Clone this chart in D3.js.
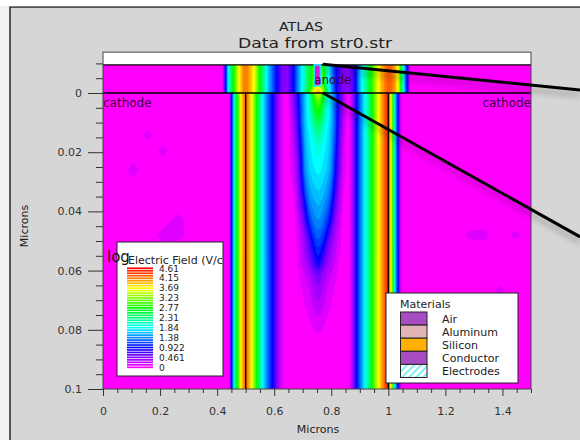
<!DOCTYPE html>
<html><head><meta charset="utf-8">
<script src="https://cdn.jsdelivr.net/npm/d3@7"></script>
<style>html,body{margin:0;padding:0;background:#f2f2f2;overflow:hidden}svg{display:block}text{font-family:"DejaVu Sans",sans-serif}</style>
</head><body><div id="c"></div>
<script>
const titleLines = ["ATLAS", "Data from str0.str"];
const xTicks = [0, 0.2, 0.4, 0.6, 0.8, 1, 1.2, 1.4];
const xMinor = [0.05,0.1,0.15,0.25,0.3,0.35,0.45,0.5,0.55,0.65,0.7,0.75,0.85,0.9,0.95,1.05,1.1,1.15,1.25,1.3,1.35,1.45,1.5];
const yTicks = [0, 0.02, 0.04, 0.06, 0.08, 0.1];
const yMinor = [-0.01,-0.005,0.005,0.01,0.015,0.025,0.03,0.035,0.045,0.05,0.055,0.065,0.07,0.075,0.085,0.09,0.095];
const legendTicks = [4.61,4.15,3.69,3.23,2.77,2.31,1.84,1.38,0.922,0.461,0];
const materials = ["Air","Aluminum","Silicon","Conductor","Electrodes"];
const materialColors = ["#a84cc4","#e2b5b5","#ffb000","#a84cc4","url(#hatchLegend)"];
const electrodeNames = ["cathode","anode","cathode"];

// Field sample positions (microns)
const xKnots = [0,.053,.105,.158,.21,.263,.315,.368,
 .417,.424,.431,.438,.445,.449,.456,.463,.473,.48,.491,.501,.508,.522,.533,.543,.561,.578,.596,.61,.627,.645,
 .666,.68,.694,.708,.722,.736,.747,.754,.761,.771,.785,.799,.813,.827,.841,
 .859,.876,.887,.901,.918,.943,.96,.978,.995,1.002,1.013,1.023,1.034,1.041,1.051,1.062,1.069,1.076,
 1.129,1.181,1.234,1.286,1.339,1.391,1.444,1.5];
const yKnots = [-.0095,-.0024,-.00004,.00001,.0024,.0057,.0091,.0142,.0193,.026,.0328,.0378,.0429,.048,.053,.0574,.0615,.0666,.0716,.0767,.0818,.0868,.1];

// log field in the layer above y=0, outside the centre well
const topLeft = [0,0,0,0,0,0,0,0, 0,.5,1.05,1.8,2.3,2.5,2.8,3.1,3.6,3.85,4.15,4.2,4.15,3.9,3.6,3.1,2.4,1.7,1.3,.92,.55,.45];
const topRight = [.45,.7,1.05,1.7,2.2,3,3.6,4.05,4.3,4.35,4.25,4.1,3.7,3.1,2.1,1.2,.7,.1, 0,0,0,0,0,0,0,0];
// log field in the substrate, outside the centre well
const sideLeft = [0,0,0,0,0,0,0,0, 0,0,0,0,.2,.9,1.5,2.4,2.95,3.6,4.1,4.3,4.15,3.7,3.15,2.6,1.84,1.35,.92,.5,.15,.03];
const sideRight = [.02,.4,.92,1.4,1.9,2.8,3.55,4.1,4.5,4.4,3.3,1.84,.92,.3,0,0,0,0, 0,0,0,0,0,0,0,0];
// centre well: one row per yKnots entry, one value per well column
const wellRows = [
 [.92,1.38,1.8,2.2,2.6,3,3.3,3.4,3.3,2.9,2.2,1.6,1.1,.75,.5],
 [.92,1.38,1.8,2.2,2.6,3.1,3.5,3.7,3.5,3.1,2.2,1.6,1.1,.75,.5],
 [.92,1.38,1.84,2.4,3,3.8,4,4.05,4,3.6,2.5,1.7,1.15,.75,.5],
 [.45,.8,1.3,1.7,2.05,2.9,3.5,3.6,3.5,2.9,2.1,1.75,1.35,.8,.45],
 [.45,.8,1.3,1.7,2.05,2.7,3.1,3.2,3.1,2.7,2.1,1.75,1.35,.8,.45],
 [.4,.75,1.25,1.7,2,2.5,2.8,2.85,2.8,2.5,2,1.7,1.3,.75,.4],
 [.35,.7,1.25,1.7,1.95,2.3,2.55,2.6,2.55,2.3,1.95,1.7,1.3,.75,.35],
 [.3,.62,1.15,1.65,1.85,2,2.2,2.25,2.2,2,1.85,1.65,1.25,.7,.3],
 [.25,.5,1,1.6,1.8,1.9,1.98,2,1.98,1.9,1.8,1.6,1.15,.62,.25],
 [.2,.42,.9,1.5,1.72,1.82,1.86,1.88,1.86,1.82,1.72,1.5,1.05,.55,.2],
 [.12,.35,.72,1.25,1.55,1.68,1.72,1.74,1.72,1.68,1.55,1.3,.85,.42,.15],
 [.06,.28,.55,1,1.4,1.55,1.6,1.62,1.6,1.55,1.4,1.1,.65,.35,.1],
 [.05,.2,.4,.75,1.15,1.4,1.48,1.5,1.48,1.4,1.2,.9,.5,.28,.08],
 [.04,.15,.3,.5,.82,1.15,1.3,1.33,1.3,1.2,.92,.55,.36,.2,.06],
 [.03,.12,.25,.4,.6,.88,1.08,1.12,1.08,.92,.6,.42,.28,.15,.05],
 [.02,.08,.22,.33,.48,.68,.88,.95,.88,.68,.48,.33,.22,.1,.03],
 [.01,.06,.16,.24,.32,.44,.52,.55,.52,.44,.32,.24,.16,.08,.02],
 [0,.04,.1,.15,.22,.32,.39,.42,.39,.32,.22,.15,.1,.04,0],
 [0,.02,.06,.12,.17,.24,.3,.32,.3,.24,.17,.12,.06,.02,0],
 [0,0,.03,.07,.11,.16,.19,.2,.19,.16,.11,.07,.03,0,0],
 [0,0,0,.03,.05,.08,.1,.1,.1,.08,.05,.03,0,0,0],
 [0,0,0,0,0,0,0,0,0,0,0,0,0,0,0],
 [0,0,0,0,0,0,0,0,0,0,0,0,0,0,0]];
// faint low-field spots in the flat regions
const patchX = [.158,.21,.105,.263,.21,.263,1.286,1.339,1.444,1.391];
const patchY = [.0142,.0193,.026,.0429,.048,.048,.048,.048,.048,.0666];
const patchV = [.17,.17,.18,.2,.2,.2,.17,.17,.17,.17];
const maxField = 4.61, levelCount = 40;

const W = 580, H = 440;
const x = d3.scaleLinear([0, 1.5], [103, 531]);
const y = d3.scaleLinear([0, 0.1], [93, 389]);
const hue = d3.scaleLinear([0, maxField], [300, 0]);
const color = v => d3.hsl(hue(v), 1, 0.5).formatHex();
const levels = d3.range(levelCount).map(i => i * maxField / levelCount);

const field = [];
yKnots.forEach((yk, r) => {
  const left = r < 3 ? topLeft : sideLeft, right = r < 3 ? topRight : sideRight;
  const row = left.concat(wellRows[r], right);
  patchX.forEach((px, i) => { if (patchY[i] === yk) row[xKnots.indexOf(px)] = patchV[i]; });
  field.push(...row);
});

const svg = d3.select("#c").append("svg").attr("width", W).attr("height", H);
const defs = svg.append("defs");
defs.append("clipPath").attr("id","plotClip").append("rect")
  .attr("x",x(0)).attr("y",y(-0.0138)).attr("width",x(1.5)-x(0)).attr("height",y(0.1)-y(-0.0138));
defs.append("clipPath").attr("id","legendClip").append("rect")
  .attr("x",117).attr("y",242).attr("width",106).attr("height",134);
const hl = defs.append("pattern").attr("id","hatchLegend").attr("width",5).attr("height",5)
  .attr("patternUnits","userSpaceOnUse").attr("patternTransform","rotate(45)");
hl.append("rect").attr("width",5).attr("height",5).attr("fill","#fff");
hl.append("rect").attr("width",2).attr("height",5).attr("fill","#7ff0f5");
const ha = defs.append("pattern").attr("id","hatchAnode").attr("width",4).attr("height",4)
  .attr("patternUnits","userSpaceOnUse").attr("patternTransform","rotate(-45)");
ha.append("rect").attr("width",4).attr("height",4).attr("fill","#ff00e0");
ha.append("rect").attr("width",1.5).attr("height",4).attr("fill","#a040c0");
defs.append("filter").attr("id","soft").attr("x","-10%").attr("y","-50%").attr("width","120%").attr("height","200%")
  .append("feGaussianBlur").attr("stdDeviation",3);

// figure panel
svg.append("rect").attr("x",10).attr("y",7).attr("width",W).attr("height",H).attr("fill","#d6d6d6").attr("stroke","#2a2a2a").attr("stroke-width",1.5);
svg.append("rect").attr("x",0).attr("y",0).attr("width",W).attr("height",6.2).attr("fill","#fff");

const titleWidths = [44, 154], titleSizes = [13, 14];
svg.selectAll(".title").data(titleLines).join("text").attr("class","title")
  .attr("x",(d,i)=>i?315:301).attr("y",(d,i)=>31+i*17).attr("text-anchor","middle").attr("font-size",(d,i)=>titleSizes[i])
  .attr("textLength",(d,i)=>titleWidths[i]).attr("lengthAdjust","spacingAndGlyphs").attr("fill","#222").text(d=>d);

// plot area
svg.append("rect").attr("x",x(0)).attr("y",y(-0.0138)).attr("width",x(1.5)-x(0)).attr("height",y(0.1)-y(-0.0138)).attr("fill","#fff");

const ix = d3.scaleLinear(xKnots.map((_,i)=>i+.5), xKnots.map(v=>x(v))).clamp(true);
const iy = d3.scaleLinear(yKnots.map((_,i)=>i+.5), yKnots.map(v=>y(v))).clamp(true);
const path = d3.geoPath(d3.geoTransform({point(a,b){this.stream.point(ix(a),iy(b));}}));
const contours = d3.contours().size([xKnots.length,yKnots.length]).thresholds(levels)(field);
const plot = svg.append("g").attr("clip-path","url(#plotClip)");
plot.selectAll("path.band").data(contours).join("path").attr("class","band")
  .attr("d",path).attr("fill",d=>color(d.value)).attr("fill-rule","evenodd");

// material boundaries
[[0,1.5,0,0],[0,1.5,-0.0095,-0.0095],[0.5,0.5,0,0.1],[1,1,0,0.1]].forEach(s=>{
  plot.append("line").attr("x1",x(s[0])).attr("x2",x(s[1])).attr("y1",y(s[2])).attr("y2",y(s[3])).attr("stroke","#000").attr("stroke-width",1.4);
});
// anode electrode
plot.append("rect").attr("x",x(.74)).attr("y",y(-.0095)).attr("width",x(.762)-x(.74)).attr("height",y(-.0024)-y(-.0095))
  .attr("fill","url(#hatchAnode)").attr("stroke","#19e6ff").attr("stroke-width",1.6);

// electrode labels
const nameX = [x(0), x(.74), x(1.5)], nameY = [0.0035,-0.0045,0.0035], anchors=["start","start","end"];
svg.selectAll(".el").data(electrodeNames).join("text").attr("class","el")
  .attr("x",(d,i)=>nameX[i]).attr("y",(d,i)=>y(nameY[i])).attr("dy",4).attr("text-anchor",(d,i)=>anchors[i])
  .attr("font-size",12).attr("fill","#3c0040").text(d=>d);

// frame
svg.append("rect").attr("x",x(0)).attr("y",y(-0.0138)).attr("width",x(1.5)-x(0)).attr("height",y(0.1)-y(-0.0138))
  .attr("fill","none").attr("stroke","#444").attr("stroke-width",1);

// axes
function styleAxis(g){ g.select(".domain").remove(); g.selectAll("line").attr("stroke","#333"); g.selectAll("text").attr("font-family","DejaVu Sans").attr("font-size",11).attr("fill","#333"); }
svg.append("g").attr("transform",`translate(0,${y(.1)})`).call(d3.axisBottom(x).tickValues(xMinor).tickSize(4).tickFormat("")).call(styleAxis);
svg.append("g").attr("transform",`translate(0,${y(.1)})`).call(d3.axisBottom(x).tickValues(xTicks).tickSize(7).tickPadding(11).tickFormat(d=>String(d))).call(styleAxis);
svg.append("g").attr("transform",`translate(${x(0)},0)`).call(d3.axisLeft(y).tickValues(yMinor).tickSize(7).tickFormat("")).call(styleAxis);
svg.append("g").attr("transform",`translate(${x(0)},0)`).call(d3.axisLeft(y).tickValues(yTicks).tickSize(15).tickPadding(6).tickFormat(d=>String(d))).call(styleAxis);
svg.append("text").attr("x",318).attr("y",433).attr("text-anchor","middle").attr("font-size",11).attr("fill","#222").text("Microns");
svg.append("text").attr("transform","translate(28,226) rotate(-90)").attr("text-anchor","middle").attr("font-size",11).attr("fill","#222").text("Microns");

// field legend
svg.append("rect").attr("x",117).attr("y",242).attr("width",106).attr("height",134).attr("fill","#fff").attr("stroke","#222").attr("stroke-width",1);
const lg = svg.append("g").attr("clip-path","url(#legendClip)");
lg.append("text").attr("x",128).attr("y",264).attr("font-size",11).attr("fill","#222").text("Electric Field (V/cm)");
const ly = d3.scaleLinear([maxField,0],[268.3,367.3]);
const stripes = levels.concat([maxField]);
lg.selectAll("rect.st").data(stripes).join("rect").attr("class","st")
  .attr("x",127).attr("width",26).attr("y",d=>ly(d)-.85).attr("height",1.7).attr("fill",d=>color(d));
lg.selectAll("text.tk").data(legendTicks).join("text").attr("class","tk")
  .attr("x",159).attr("y",d=>ly(d)).attr("dy",3.3).attr("font-size",9).attr("fill","#222").text(d=>d);
svg.append("text").attr("x",107).attr("y",262).attr("font-size",15).attr("fill","#111").text("log");

// materials legend
svg.append("rect").attr("x",386).attr("y",293).attr("width",132).attr("height",90).attr("fill","#fff").attr("stroke","#222").attr("stroke-width",1);
svg.append("text").attr("x",400).attr("y",308).attr("font-size",11).attr("fill","#222").text("Materials");
const my = d3.scaleBand(materials,[312,377.5]);
svg.selectAll("rect.m").data(materials).join("rect").attr("class","m")
  .attr("x",400.5).attr("width",26.5).attr("y",d=>my(d)).attr("height",my.bandwidth())
  .attr("fill",(d,i)=>materialColors[i]).attr("stroke","#222").attr("stroke-width",1);
svg.selectAll("text.m").data(materials).join("text").attr("class","m")
  .attr("x",442).attr("y",d=>my(d)+my.bandwidth()/2).attr("dy",4).attr("font-size",11).attr("fill","#222").text(d=>d);

// callout lines
const calloutX = [.77, 1.672], callouts = [[-.0097,-.001],[-.0001,.0486]];
const cg = svg.append("g");
callouts.forEach(c=>{
  cg.append("line").attr("x1",x(calloutX[0])).attr("x2",x(calloutX[1])).attr("y1",y(c[0])+5).attr("y2",y(c[1])+5)
    .attr("stroke","#000").attr("stroke-width",3).attr("opacity",.3).attr("filter","url(#soft)");
});
callouts.forEach(c=>{
  cg.append("line").attr("x1",x(calloutX[0])).attr("x2",x(calloutX[1])).attr("y1",y(c[0])).attr("y2",y(c[1]))
    .attr("stroke","#000").attr("stroke-width",3);
});
</script></body></html>
